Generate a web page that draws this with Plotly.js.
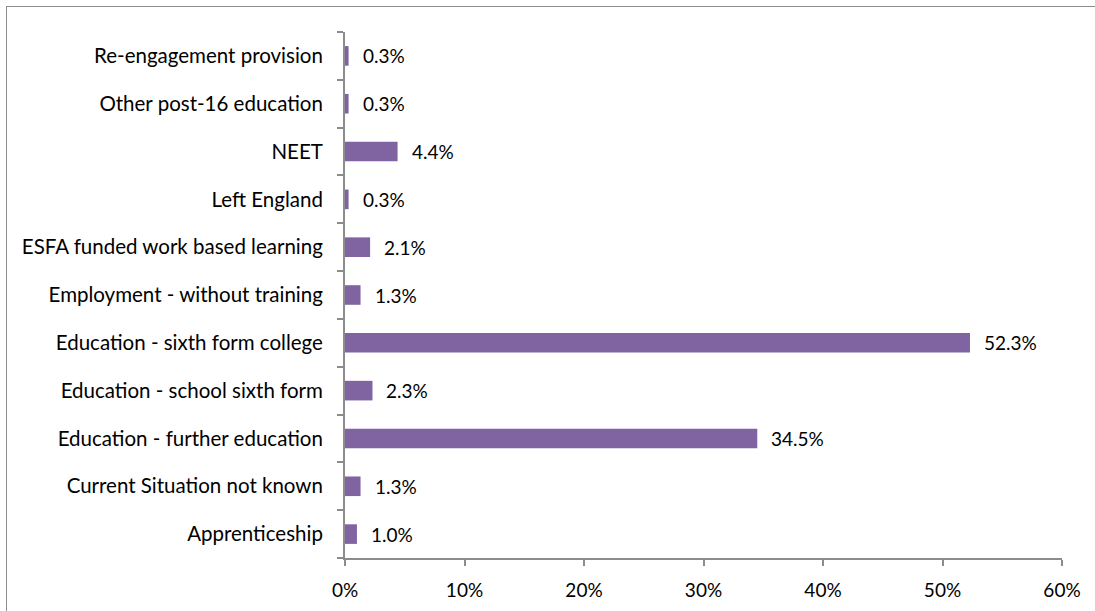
<!DOCTYPE html>
<html>
<head>
<meta charset="utf-8">
<script src="https://cdn.plot.ly/plotly-3.0.1.min.js"></script>
<style>
  html, body { margin: 0; padding: 0; background: #fff; overflow: hidden; }
  #chart { width: 1095px; height: 611px; position: absolute; left: 0; top: 0; }
  #frame { position: absolute; left: 6px; top: 6px; width: 1200px; height: 700px; border: 1px solid #8c8c8c; box-sizing: border-box; pointer-events: none; }
</style>
</head>
<body>
<div id="chart"></div>
<div id="frame"></div>
<script>
const categories = [
  "Apprenticeship",
  "Current Situation not known",
  "Education - further education",
  "Education - school sixth form",
  "Education - sixth form college",
  "Employment - without training",
  "ESFA funded work based learning",
  "Left England",
  "NEET",
  "Other post-16 education",
  "Re-engagement provision"
];
const values = [1.0, 1.3, 34.5, 2.3, 52.3, 1.3, 2.1, 0.3, 4.4, 0.3, 0.3];
const xTickValues = [0, 10, 20, 30, 40, 50, 60];

const FONT = "Lato, 'Open Sans', sans-serif";
const AXIS_COLOR = "#8c8c8c";

const trace = {
  type: "bar",
  orientation: "h",
  x: values,
  y: categories,
  marker: { color: "#8064A2" },
  hoverinfo: "none"
};

const annotations = values.map((v, i) => ({
  x: v,
  y: categories[i],
  xref: "x",
  yref: "y",
  text: v.toFixed(1) + "%",
  showarrow: false,
  xanchor: "left",
  yanchor: "middle",
  xshift: 12,
  font: { family: FONT, size: 19, color: "#000" }
}));

const layout = {
  width: 1095,
  height: 611,
  margin: { l: 345, r: 33, t: 32, b: 53, pad: 0 },
  paper_bgcolor: "rgba(0,0,0,0)",
  plot_bgcolor: "rgba(0,0,0,0)",
  showlegend: false,
  bargap: 0.59,
  font: { family: FONT, size: 19, color: "#000" },
  xaxis: {
    range: [0, 60],
    tickvals: xTickValues,
    ticktext: xTickValues.map(v => v + "%"),
    showgrid: false,
    zeroline: false,
    showline: true,
    linecolor: AXIS_COLOR,
    linewidth: 2,
    ticks: "outside",
    ticklen: 6,
    tickwidth: 2,
    tickcolor: AXIS_COLOR,
    ticklabelstandoff: 8,
    tickfont: { family: FONT, size: 19, color: "#000" },
    fixedrange: true
  },
  yaxis: {
    type: "category",
    categoryorder: "array",
    categoryarray: categories,
    range: [-0.5, categories.length - 0.5],
    showgrid: false,
    zeroline: false,
    showline: true,
    linecolor: AXIS_COLOR,
    linewidth: 2,
    ticks: "outside",
    tickson: "boundaries",
    ticklen: 6,
    tickwidth: 2,
    tickcolor: AXIS_COLOR,
    ticklabelstandoff: 16,
    tickfont: { family: FONT, size: 20.5, color: "#000" },
    fixedrange: true
  },
  annotations: annotations
};

Plotly.newPlot("chart", [trace], layout, { displayModeBar: false, staticPlot: true });
</script>
</body>
</html>
